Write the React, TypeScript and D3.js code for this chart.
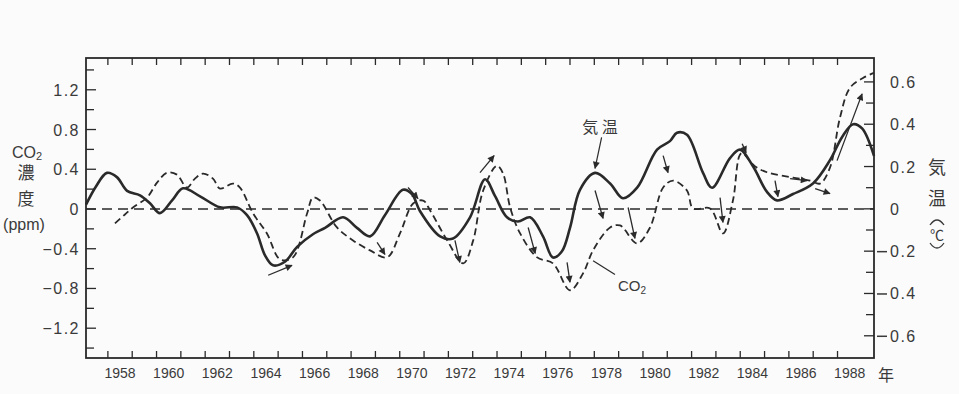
import * as d3 from "d3";
import React from "react";

// temperature anomaly (solid, right axis, °C)
const tempYears = [
  1957.1, 1957.51, 1957.96, 1958.37, 1958.79, 1959.32, 1959.73, 1960.14, 1960.64, 1961.09,
  1961.79, 1962.61, 1963.31, 1963.72, 1964.13, 1964.46, 1964.79, 1965.28, 1965.78, 1966.43,
  1966.93, 1967.67, 1968.24, 1968.78, 1969.39, 1970.13, 1970.5, 1970.83, 1971.66, 1972.19,
  1972.89, 1973.51, 1973.92, 1974.41, 1974.86, 1975.36, 1975.89, 1976.3, 1976.67, 1977.0,
  1977.41, 1978.03, 1978.65, 1979.18, 1979.76, 1980.58, 1981.11, 1981.4, 1981.81, 1982.47,
  1982.84, 1983.58, 1983.99, 1984.53, 1985.1, 1985.51, 1986.17, 1986.99, 1987.69, 1988.19,
  1988.64, 1989.01, 1989.5,
];
const tempValues = [
  0.02, 0.106, 0.17, 0.15, 0.085, 0.064, 0.026, -0.02, 0.04, 0.097,
  0.059, 0.007, 0.007, -0.03, -0.115, -0.22, -0.267, -0.25, -0.18, -0.12,
  -0.09, -0.04, -0.09, -0.13, -0.03, 0.09, 0.07, -0.01, -0.13, -0.14,
  -0.04, 0.14, 0.06, -0.04, -0.06, -0.04, -0.13, -0.23, -0.2, -0.09,
  0.09, 0.17, 0.12, 0.05, 0.1, 0.28, 0.32, 0.36, 0.35, 0.17,
  0.1, 0.24, 0.28, 0.2, 0.08, 0.04, 0.07, 0.12, 0.23, 0.34,
  0.4, 0.38, 0.25,
];

// CO2 growth anomaly (dashed, left axis, ppm)
const co2Years = [
  1958.29, 1958.7, 1959.03, 1959.61, 1960.02, 1960.43, 1960.84, 1961.25, 1961.58, 1961.91,
  1962.32, 1962.61, 1963.14, 1963.43, 1963.97, 1964.54, 1965.08, 1965.61, 1966.19, 1966.43,
  1966.72, 1967.42, 1968.08, 1968.78, 1969.48, 1970.01, 1970.55, 1970.96, 1971.25, 1971.95,
  1972.61, 1973.02, 1973.43, 1974.0, 1974.25, 1974.54, 1974.95, 1975.65, 1976.3, 1977.0,
  1977.54, 1977.95, 1978.65, 1979.06, 1979.76, 1980.29, 1980.83, 1981.24, 1981.81, 1982.06,
  1982.76, 1983.29, 1983.7, 1984.05, 1984.6, 1985.1, 1986.17, 1986.87, 1987.28, 1987.69,
  1988.1, 1988.51, 1989.05, 1989.5,
];
const co2Values = [
  -0.145, -0.055, 0.015, 0.115, 0.265, 0.366, 0.346, 0.216, 0.306, 0.356,
  0.306, 0.206, 0.256, 0.216, -0.045, -0.246, -0.507, -0.487, -0.045, 0.115,
  0.085, -0.186, -0.316, -0.417, -0.487, -0.246, 0.055, 0.085, -0.015, -0.316,
  -0.547, -0.316, 0.186, 0.436, 0.356, 0.015, -0.246, -0.487, -0.547, -0.818,
  -0.647, -0.416, -0.186, -0.166, -0.346, -0.186, 0.216, 0.286, 0.186, 0.005,
  0.005, -0.246, 0.085, 0.56, 0.43, 0.37, 0.316, 0.286, 0.256, 0.416,
  0.918, 1.219, 1.319, 1.37,
];

// lag arrows, in year / ppm units
const arrowFromYear = [1964.59, 1969.07, 1970.34, 1972.27, 1973.3, 1975.28, 1976.88, 1978.03, 1979.39, 1980.83, 1983.17, 1984.08, 1985.43, 1986.05, 1987.08, 1987.98];
const arrowFromVal = [-0.667, -0.336, 0.216, -0.316, 0.366, -0.186, -0.537, 0.186, 0.015, 0.537, 0.115, 0.657, 0.286, 0.306, 0.206, 0.487];
const arrowToYear = [1965.57, 1969.39, 1970.75, 1972.47, 1973.88, 1975.57, 1977.0, 1978.36, 1979.67, 1981.03, 1983.29, 1984.24, 1985.55, 1986.75, 1987.69, 1989.01];
const arrowToVal = [-0.567, -0.457, 0.105, -0.537, 0.537, -0.447, -0.737, -0.095, -0.296, 0.366, -0.135, 0.567, 0.125, 0.286, 0.155, 1.159];

const yearTicks = d3.range(1958, 1989);
const yearLabels = d3.range(1958, 1989, 2);
const leftMajor = [1.2, 0.8, 0.4, 0, -0.4, -0.8, -1.2];
const leftMinor = [1.4, 1.0, 0.6, 0.2, -0.2, -0.6, -1.0, -1.4];
const rightMajor = [0.6, 0.4, 0.2, 0, -0.2, -0.4, -0.6];
const rightMinor = [0.5, 0.3, 0.1, -0.1, -0.3, -0.5];

const W = 959;
const H = 394;
const L = 86, R = 874, T = 58, B = 358;
const font = "'Liberation Sans', Arial, sans-serif";
const jp = "'Noto Sans CJK JP', sans-serif";
const ink = "#2a2a2a";
const txt = "#3a3a3a";

const App = () => {
  const x = d3.scaleLinear().domain([1957.1, 1989.5]).range([L, R]);
  const yL = d3.scaleLinear().domain([-1.5, 1.52]).range([B, T]);
  const yR = d3.scaleLinear().domain([-0.705, 0.713]).range([B, T]);

  const tempLine = d3
    .line<number>()
    .x((d, i) => x(tempYears[i]))
    .y((d) => yR(d))
    .curve(d3.curveCatmullRom.alpha(0.5));
  const co2Line = d3
    .line<number>()
    .x((d, i) => x(co2Years[i]))
    .y((d) => yL(d))
    .curve(d3.curveCatmullRom.alpha(0.5));

  const fmt = (v: number) => (v === 0 ? "0" : Math.abs(v).toFixed(1));

  return (
    <svg width={W} height={H} style={{ position: "absolute", left: 0, top: 0, background: "#fbfbfb" }}>
      <defs>
        <marker id="ah" viewBox="0 0 10 10" refX="9" refY="5" markerWidth="9" markerHeight="7" markerUnits="userSpaceOnUse" orient="auto">
          <path d="M0,0 L10,5 L0,10 Z" fill={ink} />
        </marker>
      </defs>

      {/* frame */}
      <rect x={L} y={T} width={R - L} height={B - T} fill="none" stroke={ink} strokeWidth={1.8} />

      {/* year ticks bottom and top */}
      {yearTicks.map((yr) => (
        <g key={yr}>
          <line x1={x(yr)} x2={x(yr)} y1={B} y2={B - 7} stroke={ink} strokeWidth={1.3} />
          <line x1={x(yr)} x2={x(yr)} y1={T} y2={T + 7} stroke={ink} strokeWidth={1.3} />
        </g>
      ))}
      {yearLabels.map((yr) => (
        <text key={yr} x={x(yr + 0.5)} y={378} textAnchor="middle" fontFamily={font} fontSize={14} fill={txt}>
          {yr}
        </text>
      ))}
      <text x={886} y={381} textAnchor="middle" fontFamily={jp} fontSize={16} fill={txt}>年</text>

      {/* left axis */}
      {leftMajor.map((v) => (
        <g key={"lm" + v}>
          <line x1={L} x2={L + 10} y1={yL(v)} y2={yL(v)} stroke={ink} strokeWidth={1.3} />
          <text x={80} y={yL(v) + 6} textAnchor="end" fontFamily={font} fontSize={16} letterSpacing={1.5} fill={txt}>
            {v < 0 ? "−" + fmt(v) : fmt(v)}
          </text>
        </g>
      ))}
      {leftMinor.map((v) => (
        <line key={"ln" + v} x1={L} x2={L + 8} y1={yL(v)} y2={yL(v)} stroke={ink} strokeWidth={1.3} />
      ))}

      {/* right axis */}
      {rightMajor.map((v) => (
        <g key={"rm" + v}>
          <line x1={R} x2={R - 10} y1={yR(v)} y2={yR(v)} stroke={ink} strokeWidth={1.3} />
          <text x={890} y={yR(v) + 6} textAnchor="start" fontFamily={font} fontSize={16} letterSpacing={1.5} fill={txt}>
            {fmt(v)}
          </text>
          {v < 0 && <line x1={877} x2={887} y1={yR(v) + 0.5} y2={yR(v) + 0.5} stroke={txt} strokeWidth={1.5} />}
        </g>
      ))}
      {rightMinor.map((v) => (
        <line key={"rn" + v} x1={R} x2={R - 8} y1={yR(v)} y2={yR(v)} stroke={ink} strokeWidth={1.3} />
      ))}

      {/* axis titles */}
      <text x={27} y={158} textAnchor="middle" fontFamily={font} fontSize={16} fill={txt}>
        CO<tspan fontSize={11} dy={2}>2</tspan>
      </text>
      <text x={26} y={179} textAnchor="middle" fontFamily={jp} fontSize={17} fill={txt}>濃</text>
      <text x={26} y={205} textAnchor="middle" fontFamily={jp} fontSize={17} fill={txt}>度</text>
      <text x={24} y={230} textAnchor="middle" fontFamily={font} fontSize={16} fill={txt}>(ppm)</text>

      <text x={937} y={174} textAnchor="middle" fontFamily={jp} fontSize={18} fill={txt}>気</text>
      <text x={937} y={205} textAnchor="middle" fontFamily={jp} fontSize={18} fill={txt}>温</text>
      <path d="M930,225 Q937,215 944,225" fill="none" stroke={txt} strokeWidth={1.3} />
      <text x={937} y={240} textAnchor="middle" fontFamily={jp} fontSize={14} fill={txt}>℃</text>
      <path d="M930,243 Q937,253 944,243" fill="none" stroke={txt} strokeWidth={1.3} />

      {/* zero line */}
      <line x1={L} x2={R} y1={yL(0)} y2={yL(0)} stroke={ink} strokeWidth={1.4} strokeDasharray="10,6" />

      {/* series */}
      <path d={co2Line(co2Values) ?? ""} fill="none" stroke={ink} strokeWidth={1.8} strokeDasharray="7,4" />
      <path d={tempLine(tempValues) ?? ""} fill="none" stroke={ink} strokeWidth={2.6} />

      {/* arrows */}
      {arrowFromYear.map((yr, i) => (
        <line
          key={"a" + i}
          x1={x(yr)}
          y1={yL(arrowFromVal[i])}
          x2={x(arrowToYear[i])}
          y2={yL(arrowToVal[i])}
          stroke={ink}
          strokeWidth={1.3}
          markerEnd="url(#ah)"
        />
      ))}

      {/* annotations */}
      <text x={600} y={133} textAnchor="middle" fontFamily={jp} fontSize={16} fill={txt}>気 温</text>
      <line x1={x(1978.3)} y1={yL(0.72)} x2={x(1978.03)} y2={yL(0.41)} stroke={ink} strokeWidth={1.2} markerEnd="url(#ah)" />
      <text x={632} y={291} textAnchor="middle" fontFamily={font} fontSize={15} fill={txt}>
        CO<tspan fontSize={10} dy={3}>2</tspan>
      </text>
      <line x1={x(1978.85)} y1={yL(-0.66)} x2={x(1977.95)} y2={yL(-0.52)} stroke={ink} strokeWidth={1.2} />
    </svg>
  );
};

export default App;
